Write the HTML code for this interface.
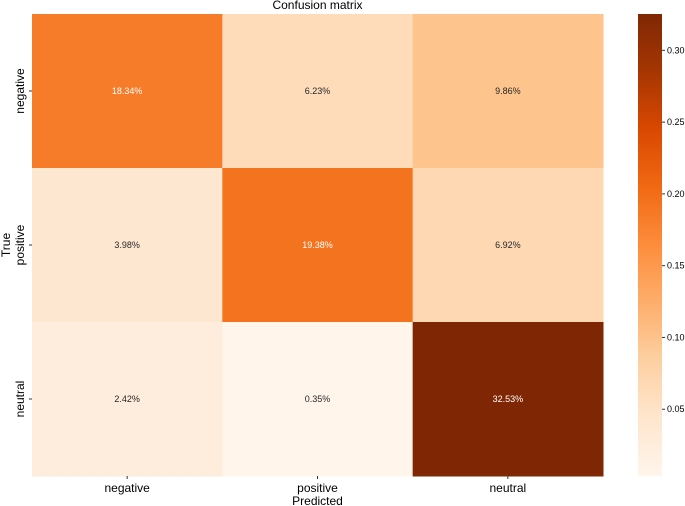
<!DOCTYPE html>
<html><head><meta charset="utf-8"><style>
body{margin:0;background:#fff;}
svg{display:block;font-family:"Liberation Sans","DejaVu Sans",sans-serif;}
</style></head><body>
<svg id="chart" width="685" height="506"></svg>
<script>
const xCategories=["negative","positive","neutral"];
const yCategories=["negative","positive","neutral"];
const row0=[0.1834,0.0623,0.0986];
const row1=[0.0398,0.1938,0.0692];
const row2=[0.0242,0.0035,0.3253];
const cbTicks=[0.05,0.10,0.15,0.20,0.25,0.30];
const rows=[row0,row1,row2];
const stops=["#fff5eb","#fee6ce","#fdd0a2","#fdae6b","#fd8d3c","#f16913","#d94801","#a63603","#7f2704"];
const all=rows.flat();const vmin=Math.min(...all),vmax=Math.max(...all);
function hex(h){return[1,3,5].map(i=>parseInt(h.substr(i,2),16));}
function cmap(v){let t=(v-vmin)/(vmax-vmin);t=Math.max(0,Math.min(1,t));const p=t*(stops.length-1);const i=Math.min(Math.floor(p),stops.length-2);const f=p-i;const a=hex(stops[i]),b=hex(stops[i+1]);return`rgb(${a.map((c,k)=>Math.round(c+(b[k]-c)*f)).join(",")})`;}
const NS="http://www.w3.org/2000/svg";const svg=document.getElementById("chart");
function el(tag,attrs,text){const e=document.createElementNS(NS,tag);for(const k in attrs)e.setAttribute(k,attrs[k]);if(text!==undefined)e.textContent=text;svg.appendChild(e);return e;}
const X0=32,X1=603,Y0=14,Y1=476;const cw=(X1-X0)/xCategories.length,ch=(Y1-Y0)/yCategories.length;
const xs=i=>X0+i*cw,ys=j=>Y0+j*ch;
rows.forEach((r,j)=>r.forEach((v,i)=>{
 const c=el("rect",{x:xs(i),y:ys(j),width:cw+0.5,height:ch+0.5,fill:cmap(v)});
 
 
 const t=el("text",{x:xs(i)+cw/2,y:ys(j)+ch/2+3,"text-anchor":"middle","font-size":"9",fill:(v-vmin)/(vmax-vmin)>0.5?"#fff":"#262626"},(v*100).toFixed(2)+"%");
 
 
}));
xCategories.forEach((c,i)=>{el("line",{x1:xs(i)+cw/2,x2:xs(i)+cw/2,y1:Y1,y2:Y1+3,stroke:"#333"});
 const t=el("text",{x:xs(i)+cw/2,y:Y1+16,"text-anchor":"middle","font-size":"12",fill:"#000"},c);
 });
yCategories.forEach((c,j)=>{const y=ys(j)+ch/2;el("line",{x1:X0-3,x2:X0,y1:y,y2:y,stroke:"#333"});
 const t=el("text",{x:0,y:0,transform:`translate(24,${y}) rotate(-90)`,"text-anchor":"middle","font-size":"12",fill:"#000"},c);
 });
let t=el("text",{x:(X0+X1)/2,y:9,"text-anchor":"middle","font-size":"12"},"Confusion matrix");

t=el("text",{x:(X0+X1)/2,y:505,"text-anchor":"middle","font-size":"12"},"Predicted");

t=el("text",{x:0,y:0,transform:`translate(10,${(Y0+Y1)/2}) rotate(-90)`,"text-anchor":"middle","font-size":"12"},"True");

const CX=638,CW=24;const cy=v=>Y1-(v-vmin)/(vmax-vmin)*(Y1-Y0);
const defs=el("defs",{});const g=document.createElementNS(NS,"linearGradient");g.setAttribute("id","cg");g.setAttribute("x1","0");g.setAttribute("y1","1");g.setAttribute("x2","0");g.setAttribute("y2","0");defs.appendChild(g);
stops.forEach((s,i)=>{const st=document.createElementNS(NS,"stop");st.setAttribute("offset",i/(stops.length-1));st.setAttribute("stop-color",s);g.appendChild(st);});
const cb=el("rect",{x:CX,y:Y0,width:CW,height:Y1-Y0,fill:"url(#cg)"});

cbTicks.forEach(v=>{const y=cy(v);el("line",{x1:CX+CW,x2:CX+CW+3,y1:y,y2:y,stroke:"#333"});
 const tt=el("text",{x:CX+CW+5,y:y+3,"font-size":"9"},v.toFixed(2));
 });
</script>
</body></html>
